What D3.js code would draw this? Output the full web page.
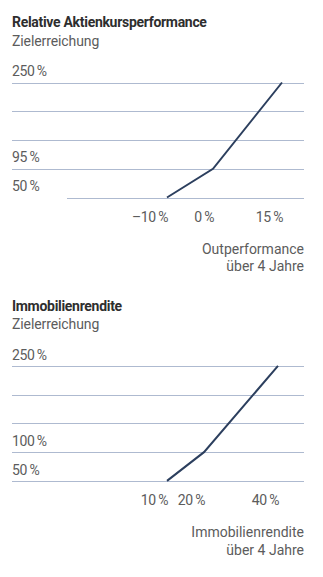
<!DOCTYPE html>
<html><head><meta charset="utf-8">
<script src="https://cdn.jsdelivr.net/npm/d3@7"></script>
<style>
html,body{margin:0;padding:0;background:#fff;}
svg{display:block;}
text{font-family:Roboto,"Noto Sans",sans-serif;}
</style></head>
<body>
<svg id="chart" width="323" height="577"></svg>
<script>
// ---- data ----
const titles = ["Relative Aktienkursperformance", "Immobilienrendite"];
const subtitles = ["Zielerreichung", "Zielerreichung"];
const xTitles = [["Outperformance", "über 4 Jahre"], ["Immobilienrendite", "über 4 Jahre"]];
const perfX = [-10, 0, 15];
const perfY = [50, 95, 250];
const perfXLabels = ["–10\u2009%", "0\u2009%", "15\u2009%"];
const perfYLabels = ["50\u2009%", "95\u2009%", "250\u2009%"];
const immoX = [10, 20, 40];
const immoY = [50, 100, 250];
const immoXLabels = ["10\u2009%", "20\u2009%", "40\u2009%"];
const immoYLabels = ["50\u2009%", "100\u2009%", "250\u2009%"];
const gridIndex = [0, 1, 4]; // which of the 5 grid lines carries each labelled level

// ---- layout ----
const layout = [
  {titleY: 27.3, xRange: [167, 282], baseStart: 67},
  {titleY: 310.7, xRange: [167, 278], baseStart: 12}
];
const left = 12, right = 304, gridTopOff = 55.2, gridH = 115, nGrid = 5;
const lineColor = "#2c3f5e", gridColor = "#aebad0", titleColor = "#2e2e2e", textColor = "#5c5c5c";

const svg = d3.select("#chart");
const charts = [
  {x: perfX, y: perfY, xl: perfXLabels, yl: perfYLabels},
  {x: immoX, y: immoY, xl: immoXLabels, yl: immoYLabels}
];

charts.forEach((c, i) => {
  const L = layout[i];
  const g = svg.append("g");
  const top = L.titleY + gridTopOff, bottom = top + gridH;
  const gridPos = d3.scaleLinear().domain([0, nGrid - 1]).range([bottom, top]);
  const y = d3.scaleLinear().domain(c.y).range(gridIndex.map(gridPos));
  const x = d3.scaleLinear().domain([c.x[0], c.x[c.x.length - 1]]).range(L.xRange);

  g.append("text").attr("x", left).attr("y", L.titleY)
    .attr("font-size", 14).attr("font-weight", 700).attr("fill", titleColor)
    .attr("letter-spacing", -0.3).text(titles[i]);
  g.append("text").attr("x", left).attr("y", L.titleY + 18.5)
    .attr("font-size", 14).attr("fill", textColor).attr("letter-spacing", -0.1).text(subtitles[i]);

  g.selectAll(".grid").data(d3.range(nGrid)).join("line")
    .attr("x1", k => k === 0 ? L.baseStart : left).attr("x2", right)
    .attr("y1", k => Math.round(gridPos(k)) + 0.5).attr("y2", k => Math.round(gridPos(k)) + 0.5)
    .attr("stroke", gridColor).attr("stroke-width", 1);

  g.selectAll(".yl").data(c.y).join("text")
    .attr("x", left).attr("y", d => y(d) - 6.3)
    .attr("font-size", 14).attr("fill", textColor).attr("letter-spacing", -0.4)
    .text((d, k) => c.yl[k]);

  const line = d3.line().x((d, k) => x(c.x[k])).y(d => y(d));
  g.append("path").datum(c.y).attr("d", line)
    .attr("fill", "none").attr("stroke", lineColor).attr("stroke-width", 2)
    .attr("stroke-linejoin", "miter");

  g.selectAll(".xl").data(c.x).join("text")
    .attr("x", d => x(d) + 1).attr("y", bottom + 24)
    .attr("text-anchor", "end")
    .attr("font-size", 14).attr("fill", textColor).attr("letter-spacing", -0.4)
    .text((d, k) => c.xl[k]);

  g.selectAll(".xt").data(xTitles[i]).join("text")
    .attr("x", right).attr("y", (d, k) => bottom + 56.5 + k * 17.3)
    .attr("text-anchor", "end")
    .attr("font-size", 14).attr("fill", textColor)
    .text(d => d);
});
</script>
</body></html>
